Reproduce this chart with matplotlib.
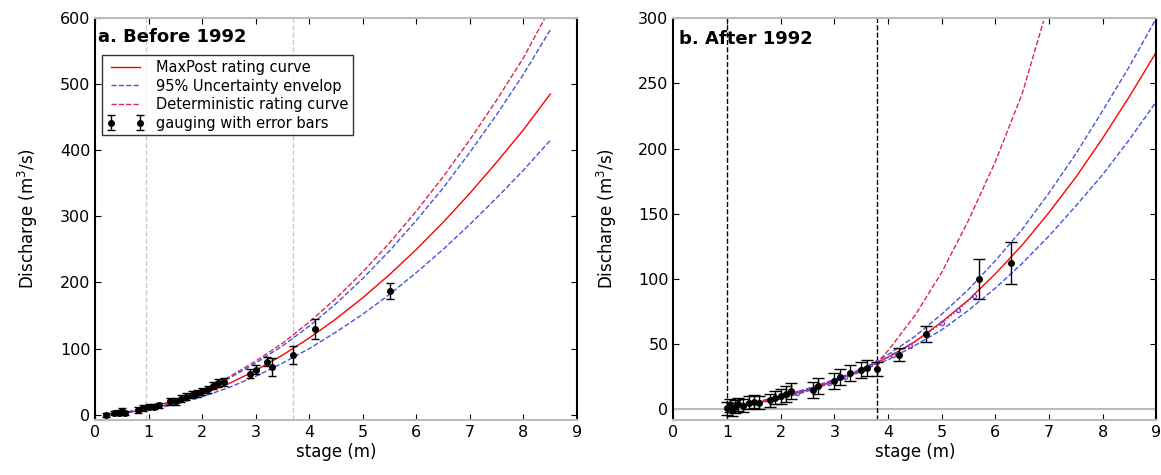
import matplotlib
matplotlib.use("Agg")
import matplotlib.pyplot as plt
import numpy as np

# ---------------- Panel a: Before 1992 ----------------
a_stage = [0.2, 0.5, 1.0, 1.5, 2.0, 2.5, 3.0, 3.5, 4.0, 4.5, 5.0, 5.5, 6.0, 6.5, 7.0, 7.5, 8.0, 8.5]
a_maxpost = [0.5, 2.2, 8.3, 18, 31, 47, 67, 90, 116, 145, 177, 212, 250, 291, 335, 382, 431, 485]
a_env_up = [0.6, 2.6, 9.5, 21, 36, 55, 78, 104, 134, 168, 206, 248, 294, 343, 397, 454, 515, 582]
a_env_lo = [0.4, 1.9, 7.2, 15.8, 27, 41, 58, 78, 100, 125, 152, 182, 215, 250, 288, 328, 370, 415]
a_det_stage = [0.2, 0.5, 1.0, 1.5, 2.0, 2.5, 3.0, 3.5, 4.0, 4.5, 5.0, 5.5, 6.0, 6.5, 7.0, 7.5, 8.0, 8.4]
a_det = [0.6, 2.7, 9.8, 22, 37, 57, 81, 108, 140, 176, 216, 260, 308, 360, 416, 476, 540, 600]

a_h = [0.2, 0.35, 0.45, 0.5, 0.55, 0.8, 0.9, 1.0, 1.1, 1.2, 1.4, 1.5, 1.6, 1.7, 1.8, 1.9, 2.0, 2.1, 2.2, 2.3, 2.4, 2.9, 3.0, 3.2, 3.3, 3.7, 4.1, 5.5]
a_q = [0, 2, 3, 5, 2, 7, 10, 12, 12, 14, 20, 20, 24, 27, 30, 32, 35, 38, 44, 48, 50, 62, 68, 80, 72, 90, 130, 187]
a_err = [3, 3, 4, 5, 3, 4, 4, 4, 4, 4, 5, 5, 5, 5, 5, 5, 6, 6, 6, 6, 6, 7, 7, 7, 14, 14, 15, 12]
a_vlines = [0.95, 3.7]

# ---------------- Panel b: After 1992 ----------------
b_stage = [1.0, 1.5, 2.0, 2.5, 3.0, 3.5, 3.8, 4.0, 4.5, 5.0, 5.5, 6.0, 6.5, 7.0, 7.5, 8.0, 8.5, 9.0]
b_maxpost = [2, 5, 9, 15, 22, 30, 36, 40, 52, 67, 84, 104, 126, 151, 178, 208, 240, 274]
b_env_up = [2.5, 5.5, 10, 16, 23, 31, 37, 42, 56, 73, 92, 114, 138, 166, 196, 229, 263, 300]
b_env_lo = [1.5, 4.5, 8, 14, 21, 29, 35, 38, 49, 61, 76, 93, 112, 133, 156, 180, 207, 236]
b_det_stage = [1.0, 1.5, 2.0, 2.5, 3.0, 3.5, 3.8, 4.0, 4.5, 5.0, 5.5, 6.0, 6.5, 6.9]
b_det = [2, 5, 9, 15, 22, 30, 36, 45, 72, 105, 145, 190, 242, 298]
b_mid_stage = [2.3, 2.6, 2.9, 3.2, 3.5, 3.8, 4.1, 4.4, 4.7, 5.0, 5.3, 5.6]
b_mid = [13, 16, 20, 25, 30, 36, 42, 49, 57, 66, 76, 87]

b_h = [1.0, 1.05, 1.1, 1.15, 1.2, 1.3, 1.4, 1.5, 1.6, 1.8, 1.9, 2.0, 2.1, 2.2, 2.6, 2.7, 3.0, 3.1, 3.3, 3.5, 3.6, 3.8, 4.2, 4.7, 5.7, 6.3]
b_q = [1, 3, 0, 2, 4, 3, 5, 6, 5, 7, 9, 10, 12, 14, 15, 18, 22, 25, 28, 30, 32, 31, 42, 58, 100, 112]
b_err = [5, 5, 5, 5, 5, 5, 5, 5, 5, 5, 5, 6, 6, 6, 6, 6, 6, 6, 6, 6, 6, 5, 5, 6, 15, 16]
b_vlines = [1.0, 3.8]

fig = plt.figure(figsize=(11.61, 4.75), dpi=100)
ax1 = fig.add_axes([0.082, 0.116, 0.415, 0.846])
ax2 = fig.add_axes([0.580, 0.116, 0.416, 0.846])

def style(ax, ylim, yticks):
    ax.set_xlim(0, 9)
    ax.set_ylim(*ylim)
    ax.set_xticks(range(10))
    ax.set_yticks(yticks)
    ax.tick_params(direction='in', top=True, right=True, length=4, labelsize=11.5)
    for s in ['top', 'bottom']:
        ax.spines[s].set_color('#bbbbbb')
        ax.spines[s].set_linewidth(1.5)
    for s in ['left', 'right']:
        ax.spines[s].set_linewidth(1.5)
    ax.set_xlabel('stage (m)', fontsize=12, labelpad=2)
    ax.set_ylabel('Discharge (m$^3$/s)', fontsize=12, labelpad=14)

# Panel a
for v in a_vlines:
    ax1.axvline(v, color='#cccccc', ls='--', lw=1)
ax1.plot(a_stage, a_maxpost, color='red', lw=1, label='MaxPost rating curve')
ax1.plot(a_stage, a_env_up, color='#4455dd', ls='--', lw=1, label='95% Uncertainty envelop')
ax1.plot(a_stage, a_env_lo, color='#4455dd', ls='--', lw=1)
ax1.plot(a_det_stage, a_det, color='#dd2255', ls='--', lw=1, label='Deterministic rating curve')
ax1.errorbar(a_h, a_q, yerr=a_err, fmt='o', color='black', ms=4, capsize=3, lw=1,
             label='gauging with error bars')
style(ax1, (-8, 600), [0, 100, 200, 300, 400, 500, 600])
ax1.text(0.05, 571, 'a. Before 1992', fontsize=13, fontweight='bold', va='center')
leg = ax1.legend(loc='upper left', bbox_to_anchor=(0.0, 0.925), fontsize=10.5, numpoints=2,
                 frameon=True, fancybox=False, edgecolor='black', handlelength=2.6,
                 borderpad=0.3, labelspacing=0.25)
leg.get_frame().set_linewidth(1)

# Panel b
ax2.axhline(0, color='#bbbbbb', lw=1.5)
for v in b_vlines:
    ax2.axvline(v, color='black', ls='--', lw=1)
ax2.plot(b_stage, b_maxpost, color='red', lw=1)
ax2.plot(b_stage, b_env_up, color='#4455dd', ls='--', lw=1)
ax2.plot(b_stage, b_env_lo, color='#4455dd', ls='--', lw=1)
ax2.plot(b_det_stage, b_det, color='#dd2255', ls='--', lw=1)
ax2.plot(b_mid_stage, b_mid, color='#8844cc', ls=':', lw=1, marker='o', ms=3, mfc='none')
ax2.errorbar(b_h, b_q, yerr=b_err, fmt='o', color='black', ms=4, capsize=4, lw=1)
style(ax2, (-8, 300), [0, 50, 100, 150, 200, 250, 300])
ax2.text(0.1, 284, 'b. After 1992', fontsize=13, fontweight='bold', va='center')

fig.savefig('out.png', dpi=100)
